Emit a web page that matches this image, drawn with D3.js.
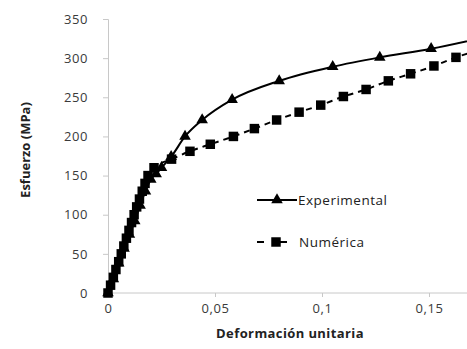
<!DOCTYPE html>
<html><head><meta charset="utf-8">
<script src="https://cdn.jsdelivr.net/npm/d3@7"></script>
<style>body{margin:0;background:#fff}svg{display:block}</style>
</head><body>
<svg id="c" width="467" height="349"></svg>
<script>
const xTicks = [0, 0.05, 0.1, 0.15];
const yTicks = [0, 50, 100, 150, 200, 250, 300, 350];
const expStrain = [0,0.0025,0.005,0.0075,0.01,0.0125,0.015,0.0175,0.02,0.0225,0.025,0.0295,0.036,0.044,0.058,0.08,0.105,0.127,0.151,0.175];
const expStress = [0,18,38,57,75,92,112,130,145,152,160,174,200,221,247,271,289,301,312,326];
const numStrain = [0,0.0012,0.0025,0.0037,0.005,0.0062,0.0074,0.0086,0.0098,0.011,0.0122,0.0134,0.0147,0.016,0.0173,0.0187,0.0215,0.0297,0.0383,0.0478,0.0586,0.0684,0.0788,0.0893,0.0994,0.110,0.1206,0.131,0.1414,0.1523,0.1626,0.173];
const numStress = [0,10,20,30,40,50,60,70,80,90,100,110,120,130,140,150,160,171,181,190,200,210,221,231,240,251,260,271,280,290,301,310];
const seriesNames = ["Experimental", "Numérica"];

const svg = d3.select("#c");
const x = d3.scaleLinear().domain([0, 0.2]).range([108, 536]);
const y = d3.scaleLinear().domain([0, 350]).range([293, 19]);
const fmt = d => d === 0 ? "0" : String(d).replace(".", ",");
const font = "'Open Sans', sans-serif";

svg.append("line").attr("x1", 108).attr("x2", 467).attr("y1", 293).attr("y2", 293).attr("stroke", "#c8c8c8");
const xa = svg.append("g").attr("transform", "translate(0,293)")
  .call(d3.axisBottom(x).tickValues(xTicks).tickFormat(fmt).tickSizeOuter(0).tickSize(4).tickPadding(7));
const ya = svg.append("g").attr("transform", "translate(108,0)")
  .call(d3.axisLeft(y).tickValues(yTicks).tickSizeOuter(0).tickSize(5).tickPadding(15));
xa.select(".domain").remove();
ya.select(".domain").attr("stroke", "#c8c8c8");
[xa, ya].forEach(a => {
  a.selectAll(".tick line").attr("stroke", "#c8c8c8");
  a.selectAll("text").attr("fill", "#3a3a3a").style("font-family", font).style("font-size", "13px").style("letter-spacing", "0.6px");
});

const expData = expStrain.map((d, i) => [d, expStress[i]]);
const numData = numStrain.map((d, i) => [d, numStress[i]]);
const line = d3.line().x(d => x(d[0])).y(d => y(d[1])).curve(d3.curveMonotoneX);

svg.append("path").datum(numData).attr("d", line).attr("fill", "none")
  .attr("stroke", "#000").attr("stroke-width", 2).attr("stroke-dasharray", "6,5");
svg.append("path").datum(expData).attr("d", line).attr("fill", "none")
  .attr("stroke", "#000").attr("stroke-width", 2);

const tri = d3.symbol().type(d3.symbolTriangle).size(58);
const sq = d3.symbol().type(d3.symbolSquare).size(90);
svg.append("g").selectAll("path").data(numData).join("path")
  .attr("d", sq).attr("transform", d => `translate(${x(d[0])},${y(d[1])})`).attr("fill", "#000");
svg.append("g").selectAll("path").data(expData).join("path")
  .attr("d", tri).attr("transform", d => `translate(${x(d[0])},${y(d[1])})`).attr("fill", "#000");

// legend
const lg = svg.append("g");
lg.append("line").attr("x1", 257).attr("x2", 297).attr("y1", 200).attr("y2", 200).attr("stroke", "#000").attr("stroke-width", 2);
lg.append("path").attr("d", tri).attr("transform", "translate(277,200)");
lg.append("text").attr("x", 298).attr("y", 205).text(seriesNames[0]);
lg.append("line").attr("x1", 257).attr("x2", 264).attr("y1", 242).attr("y2", 242).attr("stroke", "#000").attr("stroke-width", 2);
lg.append("line").attr("x1", 272).attr("x2", 287).attr("y1", 242).attr("y2", 242).attr("stroke", "#000").attr("stroke-width", 2);
lg.append("path").attr("d", sq).attr("transform", "translate(276,242)");
lg.append("text").attr("x", 299).attr("y", 247).text(seriesNames[1]);
lg.selectAll("text").attr("fill", "#222").style("font-family", font).style("font-size", "13.5px").style("letter-spacing", "0.5px");

svg.append("text").attr("x", 290).attr("y", 338).attr("text-anchor", "middle")
  .style("font-family", font).style("font-size", "13px").style("font-weight", "bold").style("letter-spacing", "0.4px").attr("fill", "#222")
  .text("Deformación unitaria");
svg.append("text").attr("transform", "translate(30,150) rotate(-90)").attr("text-anchor", "middle")
  .style("font-family", font).style("font-size", "13px").style("font-weight", "bold").attr("fill", "#222")
  .text("Esfuerzo (MPa)");
</script>
</body></html>
